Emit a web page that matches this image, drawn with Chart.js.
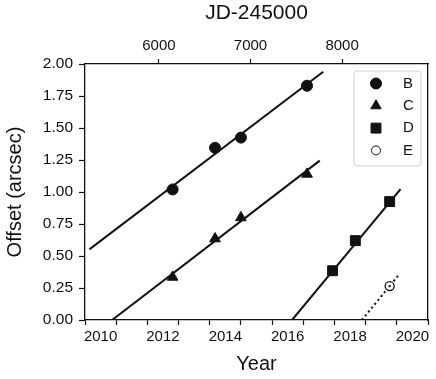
<!DOCTYPE html>
<html>
<head>
  <title>Offset vs Year</title>
  <script src="https://cdn.jsdelivr.net/npm/chart.js"></script>
  <style>
    html, body { margin: 0; padding: 0; background: #fff; }
  </style>
</head>
<body>
  <canvas id="offsetChart" width="436" height="379"></canvas>

  <script>
    // measured points (year, offset in arcsec)
    const bYears = [2012.31, 2013.67, 2014.50, 2016.62];
    const bOffsets = [1.02, 1.345, 1.425, 1.83];
    const cYears = [2012.31, 2013.67, 2014.50, 2016.62];
    const cOffsets = [0.335, 0.635, 0.80, 1.14];
    const dYears = [2017.44, 2018.17, 2019.27];
    const dOffsets = [0.385, 0.62, 0.925];
    const eYears = [2019.27];
    const eOffsets = [0.265];

    // fitted lines, end points
    const bFitYears = [2009.64, 2017.14];
    const bFitOffsets = [0.552, 1.94];
    const cFitYears = [2010.37, 2017.03];
    const cFitOffsets = [0.0, 1.245];
    const dFitYears = [2016.14, 2019.62];
    const dFitOffsets = [0.0, 1.023];
    const eFitYears = [2018.38, 2019.54];
    const eFitOffsets = [0.0, 0.346];

    // axes
    const yearLabels = [2010, 2012, 2014, 2016, 2018, 2020];
    const yearTickMarks = [2009.5, 2010.5, 2011.5, 2012.5, 2013.5, 2014.5, 2015.5, 2016.5, 2017.5, 2018.5, 2019.5, 2020.5];
    const jdTicks = [6000, 7000, 8000];
    const offsetTicks = [0, 0.25, 0.5, 0.75, 1.0, 1.25, 1.5, 1.75, 2.0];

    const pts = (xs, ys) => xs.map((x, i) => ({x: x, y: ys[i]}));
    const ink = '#111';
    const FONT = 'Liberation Sans, Arial, Helvetica, sans-serif';

    function fitLine(xs, ys, dash) {
      return {
        data: pts(xs, ys),
        showLine: true,
        pointRadius: 0,
        borderColor: ink,
        borderWidth: 2,
        borderDash: dash || [],
        order: 2
      };
    }

    const markerLegend = {
      id: 'markerLegend',
      afterDatasetsDraw(chart) {
        const {ctx, chartArea} = chart;
        const items = chart.data.datasets.filter(d => d.legendMarker);
        const w = 67, h = 95;
        const x0 = chartArea.right - 7 - w, y0 = chartArea.top + 7;
        ctx.save();
        ctx.beginPath();
        ctx.roundRect(x0, y0, w, h, 3);
        ctx.fillStyle = 'rgba(255,255,255,0.8)';
        ctx.fill();
        ctx.strokeStyle = '#d0d0d0';
        ctx.lineWidth = 1;
        ctx.stroke();
        ctx.font = '15px ' + FONT;
        ctx.textBaseline = 'middle';
        items.forEach((d, i) => {
          const y = y0 + 12.5 + i * 22.3;
          ctx.fillStyle = d.backgroundColor;
          ctx.strokeStyle = d.borderColor;
          Chart.helpers.drawPoint(ctx, {
            pointStyle: d.pointStyle,
            radius: d.legendMarker,
            borderWidth: d.borderWidth,
            rotation: 0
          }, x0 + 22, y);
          ctx.fillStyle = ink;
          ctx.fillText(d.label, x0 + 49, y);
        });
        ctx.restore();
      }
    };

    new Chart(document.getElementById('offsetChart'), {
      type: 'scatter',
      data: {
        datasets: [
          {label: 'B', data: pts(bYears, bOffsets), pointStyle: 'circle', pointRadius: 5.5,
           backgroundColor: ink, borderColor: ink, borderWidth: 1, order: 1, legendMarker: 5.5},
          {label: 'C', data: pts(cYears, cOffsets), pointStyle: 'triangle', pointRadius: 6.2,
           backgroundColor: ink, borderColor: ink, borderWidth: 1, order: 1, legendMarker: 6},
          {label: 'D', data: pts(dYears, dOffsets), pointStyle: 'rect', pointRadius: 7,
           backgroundColor: ink, borderColor: ink, borderWidth: 1, order: 1, legendMarker: 7},
          {label: 'E', data: pts(eYears, eOffsets), pointStyle: 'circle', pointRadius: 4.5,
           backgroundColor: '#fff', borderColor: ink, borderWidth: 1.3, order: 1, legendMarker: 4.5},
          {label: 'E dot', data: pts(eYears, eOffsets), pointStyle: 'circle', pointRadius: 1.2,
           backgroundColor: ink, borderColor: ink, borderWidth: 0, order: 0},
          fitLine(bFitYears, bFitOffsets),
          fitLine(cFitYears, cFitOffsets),
          fitLine(dFitYears, dFitOffsets),
          fitLine(eFitYears, eFitOffsets, [2, 3])
        ]
      },
      options: {
        responsive: false,
        animation: false,
        layout: {padding: 0},
        plugins: {
          legend: {display: false},
          tooltip: {enabled: false}
        },
        scales: {
          x: {
            type: 'linear',
            position: 'bottom',
            min: 2009.5,
            max: 2020.5,
            afterBuildTicks: s => {
              s.ticks = yearTickMarks.concat(yearLabels).sort((a, b) => a - b).map(v => ({value: v}));
            },
            afterFit: s => { s.height = 59; },
            ticks: {
              autoSkip: false,
              maxRotation: 0,
              padding: 3,
              color: ink,
              font: {family: FONT, size: 15},
              callback: v => yearLabels.includes(v) ? String(v) : ''
            },
            grid: {
              drawOnChartArea: false,
              tickLength: 5,
              tickWidth: 1.2,
              tickColor: c => yearTickMarks.includes(c.tick && c.tick.value) ? ink : 'rgba(0,0,0,0)'
            },
            border: {color: ink, width: 1.3},
            title: {
              display: true,
              text: 'Year',
              color: ink,
              font: {family: FONT, size: 20},
              padding: {bottom: 3}
            }
          },
          x2: {
            type: 'linear',
            position: 'top',
            min: 5193,
            max: 8938,
            afterBuildTicks: s => { s.ticks = jdTicks.map(v => ({value: v})); },
            afterFit: s => { s.height = 64; },
            ticks: {
              maxRotation: 0,
              padding: 4,
              color: ink,
              font: {family: FONT, size: 15},
              callback: v => String(v)
            },
            grid: {drawOnChartArea: false, tickLength: 5, tickWidth: 1.2, tickColor: ink},
            border: {color: ink, width: 1.3},
            title: {
              display: true,
              text: 'JD-245000',
              color: ink,
              font: {family: FONT, size: 21},
              padding: {top: 1}
            }
          },
          y: {
            type: 'linear',
            position: 'left',
            min: 0,
            max: 2,
            afterBuildTicks: s => { s.ticks = offsetTicks.map(v => ({value: v})); },
            afterFit: s => { s.width = 85; },
            ticks: {
              padding: 6,
              color: ink,
              font: {family: FONT, size: 15.5},
              callback: v => v.toFixed(2)
            },
            grid: {drawOnChartArea: false, tickLength: 6, tickWidth: 1.2, tickColor: ink},
            border: {color: ink, width: 1.3},
            title: {
              display: true,
              text: 'Offset (arcsec)',
              color: ink,
              font: {family: FONT, size: 20},
              padding: {top: 3}
            }
          },
          y2: {
            type: 'linear',
            position: 'right',
            min: 0,
            max: 2,
            afterFit: s => { s.width = 8; },
            ticks: {display: false},
            grid: {drawOnChartArea: false, drawTicks: false},
            border: {color: ink, width: 1.3}
          }
        }
      },
      plugins: [markerLegend]
    });
  </script>
</body>
</html>
